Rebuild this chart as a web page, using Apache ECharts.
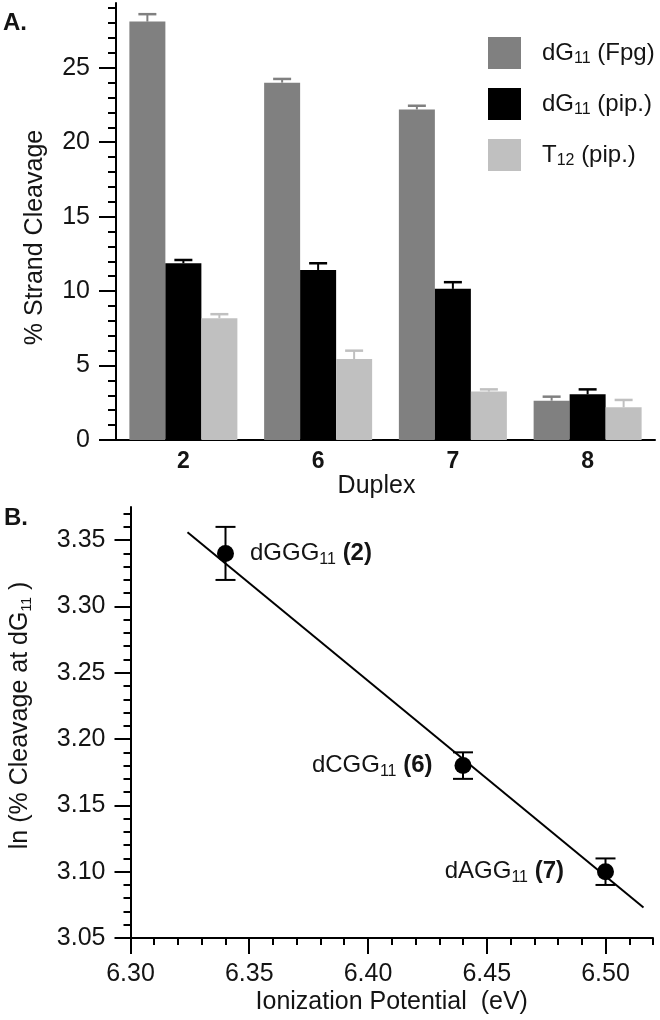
<!DOCTYPE html>
<html><head><meta charset="utf-8">
<script src="https://cdn.jsdelivr.net/npm/echarts@6/dist/echarts.min.js"></script>
<style>html,body{margin:0;padding:0;background:#fff}#c{width:660px;height:1020px}</style>
</head><body><div id="c"></div>
<script>
// ---- Panel A data ----
const duplexes = ['2', '6', '7', '8'];
const seriesNames = ['dG11 (Fpg)', 'dG11 (pip.)', 'T12 (pip.)'];
const fpgValues = [28.1, 24.0, 22.2, 2.64];
const fpgErrors = [0.5, 0.25, 0.25, 0.27];
const pipValues = [11.87, 11.42, 10.15, 3.07];
const pipErrors = [0.22, 0.45, 0.45, 0.33];
const t12Values = [8.18, 5.44, 3.25, 2.2];
const t12Errors = [0.27, 0.56, 0.15, 0.49];
const barTicks = [0, 5, 10, 15, 20, 25];
// ---- Panel B data ----
const ipValues = [6.34, 6.44, 6.50];
const lnCleavage = [3.34, 3.18, 3.10];
const lnErrors = [0.02, 0.01, 0.01];
const pointNames = ['dGGG', 'dCGG', 'dAGG'];
const pointDuplex = ['2', '6', '7'];
const fitLineX = [6.324, 6.516];
const fitLineY = [3.356, 3.073];
const ipTicks = [6.30, 6.35, 6.40, 6.45, 6.50];
const lnTicks = [3.05, 3.10, 3.15, 3.20, 3.25, 3.30, 3.35];

const FONT = 'Liberation Sans, Arial, sans-serif';
const TXT = '#141414';
const BAR_W = 36, CAP = 9;
const colors = ['#808080', '#000000', '#c0c0c0'];

function range(a, b, step, skipEvery) {
  const out = [];
  for (let i = 0; a + i * step <= b + 1e-9; i++) {
    if (skipEvery && i % skipEvery === 0) continue;
    out.push(+(a + i * step).toFixed(4));
  }
  return out;
}
const topMinor = range(0, 29, 1, 5);
const ipMinor = range(6.30, 6.52, 0.01, 5);
const lnMinor = range(3.05, 3.37, 0.01, 5);

const richT = {
  t: {fontSize: 24, fontFamily: FONT, color: TXT, lineHeight: 28},
  s: {fontSize: 16, fontFamily: FONT, color: TXT, lineHeight: 13, verticalAlign: 'bottom'},
  b: {fontSize: 24, fontFamily: FONT, color: TXT, lineHeight: 28, fontWeight: 'bold'}
};
function subFmt(name) {
  return '{t|' + name.replace(/(\d+)/, '}{s|$1}{t|') + '}';
}

function barErr(vals, errs, k) {
  return {
    type: 'custom', xAxisIndex: 0, yAxisIndex: 0, z: 3,
    data: vals.map((v, i) => [i, v, v + errs[i]]),
    renderItem: (params, api) => {
      const c = api.coord([api.value(0), api.value(1)]);
      const t = api.coord([api.value(0), api.value(2)]);
      const x = c[0] + (k - 1) * BAR_W;
      return {type: 'group', children: [
        {type: 'line', shape: {x1: x, y1: c[1], x2: x, y2: t[1]}, style: {stroke: colors[k], lineWidth: 2}},
        {type: 'line', shape: {x1: x - CAP, y1: t[1], x2: x + CAP, y2: t[1]}, style: {stroke: colors[k], lineWidth: 2.5}}
      ]};
    }
  };
}

const axisLineStyle = {color: '#000', width: 2};
const labelStyle = {color: TXT, fontFamily: FONT, fontSize: 25};

const option = {
  animation: false,
  backgroundColor: '#fff',
  graphic: [
    {type: 'text', left: 3, top: 11, style: {text: 'A.', font: 'bold 24px ' + FONT, fill: TXT}},
    {type: 'text', left: 4, top: 506, style: {text: 'B.', font: 'bold 24px ' + FONT, fill: TXT}}
  ],
  grid: [
    {left: 116, top: 3, width: 539, height: 437},
    {left: 124, top: 507, width: 529, height: 431}
  ],
  legend: {
    orient: 'vertical', left: 483, top: 32, itemWidth: 33, itemHeight: 32, itemGap: 19,
    icon: 'rect', selectedMode: false, data: seriesNames,
    formatter: subFmt,
    textStyle: {padding: [0, 0, 0, 16], rich: richT}
  },
  xAxis: [
    {type: 'category', gridIndex: 0, data: duplexes,
     axisLine: {lineStyle: axisLineStyle}, axisTick: {show: false},
     axisLabel: {color: TXT, fontFamily: FONT, fontSize: 23, fontWeight: 'bold', margin: 10},
     name: 'Duplex', nameLocation: 'middle', nameGap: 30,
     nameTextStyle: {color: TXT, fontFamily: FONT, fontSize: 25, padding: [0, 18, 0, 0]}},
    {type: 'value', gridIndex: 1, min: 6.30, max: 6.52, interval: 0.05,
     axisLine: {lineStyle: axisLineStyle},
     axisTick: {length: 16, lineStyle: {width: 2, color: '#000'}, customValues: ipTicks},
     axisLabel: Object.assign({margin: 24, customValues: ipTicks, formatter: v => v.toFixed(2)}, labelStyle),
     splitLine: {show: false},
     name: 'Ionization Potential  (eV)', nameLocation: 'middle', nameGap: 52,
     nameTextStyle: {color: TXT, fontFamily: FONT, fontSize: 25}},
    {type: 'value', gridIndex: 1, min: 6.30, max: 6.52, position: 'bottom',
     axisLine: {show: false}, axisLabel: {show: false}, splitLine: {show: false},
     axisTick: {length: 7, lineStyle: {width: 2, color: '#000'}, customValues: ipMinor}}
  ],
  yAxis: [
    {type: 'value', gridIndex: 0, min: 0, max: 29.35, interval: 5, position: 'left',
     axisLine: {show: true, lineStyle: axisLineStyle},
     axisTick: {show: true, length: 17, lineStyle: {width: 2, color: '#000'}, customValues: barTicks},
     axisLabel: Object.assign({margin: 26, customValues: barTicks}, labelStyle),
     splitLine: {show: false},
     name: '% Strand Cleavage', nameLocation: 'middle', nameGap: 68,
     nameTextStyle: {color: TXT, fontFamily: FONT, fontSize: 25, padding: [0, 32, 0, 0]}},
    {type: 'value', gridIndex: 0, min: 0, max: 29.35, position: 'left',
     axisLine: {show: false}, axisLabel: {show: false}, splitLine: {show: false},
     axisTick: {show: true, length: 8, lineStyle: {width: 2, color: '#000'}, customValues: topMinor}},
    {type: 'value', gridIndex: 1, min: 3.05, max: 3.375, interval: 0.05, position: 'left',
     axisLine: {show: true, lineStyle: axisLineStyle},
     axisTick: {show: true, length: 16, lineStyle: {width: 2, color: '#000'}, customValues: lnTicks},
     axisLabel: Object.assign({margin: 25, customValues: lnTicks, formatter: v => v.toFixed(2)}, labelStyle),
     splitLine: {show: false},
     name: '{t|ln (% Cleavage at dG}{s|11}{t| )}', nameLocation: 'middle', nameGap: 96,
     nameTextStyle: {padding: [0, 0, 0, 14], rich: {
       t: {fontSize: 25, fontFamily: FONT, color: TXT, lineHeight: 28},
       s: {fontSize: 14, fontFamily: FONT, color: TXT, lineHeight: 13, verticalAlign: 'bottom'}}}},
    {type: 'value', gridIndex: 1, min: 3.05, max: 3.375, position: 'left',
     axisLine: {show: false}, axisLabel: {show: false}, splitLine: {show: false},
     axisTick: {show: true, length: 7, lineStyle: {width: 2, color: '#000'}, customValues: lnMinor}}
  ],
  series: [
    {type: 'bar', name: seriesNames[0], data: fpgValues, barWidth: BAR_W, barGap: '0%', xAxisIndex: 0, yAxisIndex: 0, itemStyle: {color: colors[0]}},
    {type: 'bar', name: seriesNames[1], data: pipValues, barWidth: BAR_W, barGap: '0%', xAxisIndex: 0, yAxisIndex: 0, itemStyle: {color: colors[1]}},
    {type: 'bar', name: seriesNames[2], data: t12Values, barWidth: BAR_W, barGap: '0%', xAxisIndex: 0, yAxisIndex: 0, itemStyle: {color: colors[2]}},
    barErr(fpgValues, fpgErrors, 0),
    barErr(pipValues, pipErrors, 1),
    barErr(t12Values, t12Errors, 2),
    {type: 'line', xAxisIndex: 1, yAxisIndex: 2, symbol: 'none', silent: true,
     data: fitLineX.map((x, i) => [x, fitLineY[i]]),
     lineStyle: {color: '#000', width: 2}},
    {type: 'custom', xAxisIndex: 1, yAxisIndex: 2, z: 4,
     data: ipValues.map((x, i) => [x, lnCleavage[i] - lnErrors[i], lnCleavage[i] + lnErrors[i]]),
     renderItem: (params, api) => {
       const lo = api.coord([api.value(0), api.value(1)]);
       const hi = api.coord([api.value(0), api.value(2)]);
       const st = {stroke: '#000', lineWidth: 2};
       return {type: 'group', children: [
         {type: 'line', shape: {x1: lo[0], y1: lo[1], x2: hi[0], y2: hi[1]}, style: st},
         {type: 'line', shape: {x1: lo[0] - 10, y1: lo[1], x2: lo[0] + 10, y2: lo[1]}, style: st},
         {type: 'line', shape: {x1: hi[0] - 10, y1: hi[1], x2: hi[0] + 10, y2: hi[1]}, style: st}
       ]};
     }},
    {type: 'scatter', xAxisIndex: 1, yAxisIndex: 2, symbol: 'circle', symbolSize: 17, z: 5,
     itemStyle: {color: '#000', opacity: 1},
     data: ipValues.map((x, i) => ({
       value: [x, lnCleavage[i]],
       label: {show: true, position: i === 0 ? 'right' : 'left', distance: [16, 22, 33][i],
         formatter: '{t|' + pointNames[i] + '}{s|11}{t| }{b|(' + pointDuplex[i] + ')}',
         rich: richT}
     }))}
  ]
};
echarts.init(document.getElementById('c')).setOption(option);
</script>
</body></html>
